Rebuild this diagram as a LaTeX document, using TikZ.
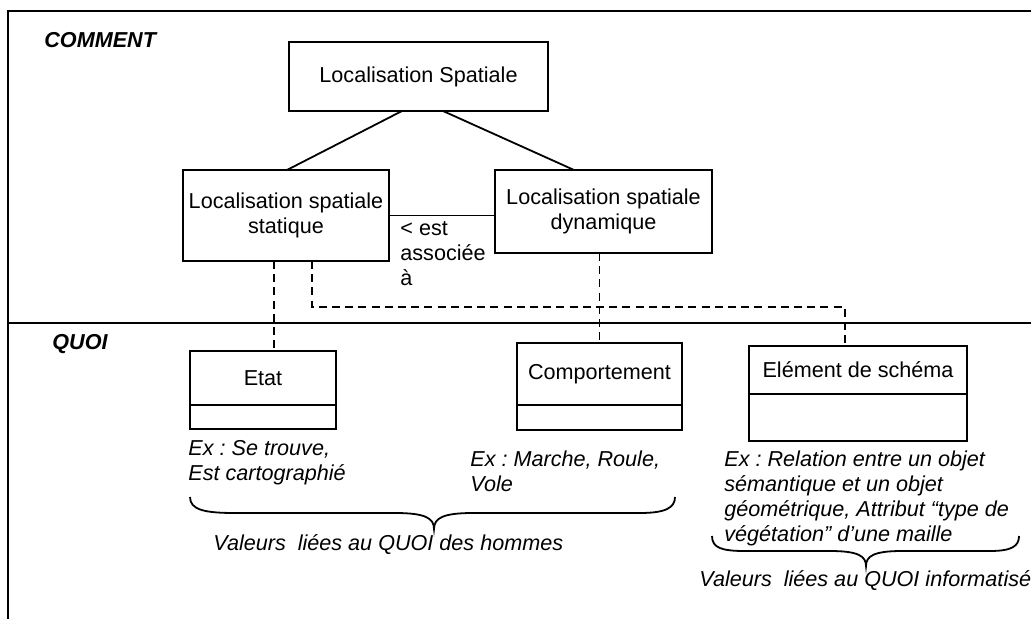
\documentclass[tikz,border=0pt]{standalone}
\usepackage{fontspec}
\setmainfont{Liberation Sans}
\usepackage{xcolor}
\usepackage{tikz}
\usetikzlibrary{positioning,calc}

\newcommand\diagfont{\fontsize{10.8}{12.5}\selectfont\frenchspacing}

\tikzset{
  frame/.style={line width=1pt},
  box/.style={draw, line width=0.9pt, align=center, inner sep=0pt, outer sep=0pt, font=\diagfont},
  assoc/.style={line width=0.9pt},
  trace/.style={line width=0.8pt, dash pattern=on 4pt off 2.6pt},
  zone/.style={anchor=north west, inner sep=0pt, font=\diagfont\bfseries\itshape},
  exnote/.style={anchor=north west, inner sep=0pt, align=left, font=\diagfont\itshape},
  brace/.style={line width=0.9pt},
}

\begin{document}
\begin{tikzpicture}[x=0.5pt, y=-0.5pt]
    \useasboundingbox (0,0) rectangle (1031,619);

    % Frame and the two zones
    \draw[frame] (8,619) -- (8,11) -- (1035,11);
    \draw[frame] (8,323) -- (1035,323);
    \node[zone] (comment) at (44,32) {COMMENT};
    \node[zone] (quoi) at (52,334) {QUOI};

    % COMMENT: spatial localisation
    \node[box, minimum width=129.5pt, minimum height=34.5pt] (loc) at (418.5,76.5) {Localisation Spatiale};
    \node[box, minimum width=103pt, minimum height=45.5pt] (stat) at (286,215.5) {Localisation spatiale\\statique};
    \node[box, minimum width=108.5pt, minimum height=41.5pt] (dyn) at (603.5,211.5) {Localisation spatiale\\dynamique};
    \draw[assoc] ($(loc.south)+(-16.5,0)$) -- ($(stat.north)+(1,0)$);
    \draw[assoc] ($(loc.south)+(24.5,0)$) -- ($(dyn.north)+(-29.5,0)$);
    \draw[assoc] (stat.east) -- (stat.east -| dyn.west);
    \node[anchor=north west, align=left, inner sep=0pt, font=\diagfont] (assoclbl) at (400,221) {< est\\associée\\à};

    % QUOI: class boxes
    \foreach \name/\cx/\ytop/\w/\htop/\hbot/\txt in {etat/263/351/73/27/12/Etat,
                                                   comp/599.5/343/82.5/31/12.5/Comportement,
                                                   elem/858/346/109/24/23.5/{Elément de schéma}}
    {
        \node[box, minimum width=\w pt, minimum height=\htop pt, anchor=north] (\name) at (\cx,\ytop) {\txt};
        \node[box, minimum width=\w pt, minimum height=\hbot pt, anchor=north] (\name-b) at (\name.south) {};
    }

    % dashed links between the zones
    \coordinate (t1) at (274,0);
    \coordinate (t2) at (312,307);
    \coordinate (t3) at (845,307);
    \draw[trace] (stat.south -| t1) -- (etat.north -| t1);
    \draw[trace] (stat.south -| t2) -- (t2) -- (t3) -- (elem.north -| t3);
    \draw[trace] (dyn.south -| comp.north) -- (comp.north);

    % examples
    \node[exnote] (exetat) at (188,440) {Ex : Se trouve,\\Est cartographié};
    \node[exnote] (excomp) at (470,450) {Ex : Marche, Roule,\\Vole};
    \node[exnote] (exelem) at (724,450) {Ex : Relation entre un objet\\sémantique et un objet\\géométrique, Attribut “type de\\végétation” d’une maille};

    % braces
    \coordinate (b1l) at (190,497);
    \coordinate (b1t) at (434,529);
    \coordinate (b1r) at (675,497);
    \draw[brace] (b1l) .. controls (190,510) and (205,513) .. (235,513) -- (395,513)
        .. controls (425,513) and (434,518) .. (b1t)
        .. controls (434,518) and (443,513) .. (473,513) -- (640,513)
        .. controls (665,513) and (675,508) .. (b1r);
    \coordinate (b2l) at (712,536);
    \coordinate (b2t) at (866,566);
    \coordinate (b2r) at (1019,536);
    \draw[brace] (b2l) .. controls (712,548) and (722,551) .. (745,551) -- (830,551)
        .. controls (858,551) and (866,556) .. (b2t)
        .. controls (866,556) and (874,551) .. (902,551) -- (990,551)
        .. controls (1012,551) and (1019,546) .. (b2r);
    \node[exnote] (vhom) at (213,534) {Valeurs\ \ liées au QUOI des hommes};
    \node[exnote] (vinf) at (699,570) {Valeurs\ \ liées au QUOI informatisé};
\end{tikzpicture}
\end{document}
